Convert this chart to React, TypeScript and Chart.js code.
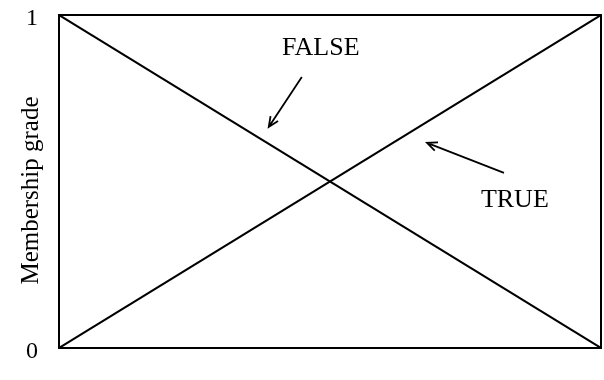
import React, { useEffect, useRef } from "react";
import { Chart, registerables } from "chart.js";

Chart.register(...registerables);

const xValues = [0, 1];
const falseGrade = [1, 0];
const trueGrade = [0, 1];
const yTicks = [0, 1];
const yTitle = "Membership grade";
const falseLabel = "FALSE";
const trueLabel = "TRUE";

const FONT = "'Liberation Serif', 'Times New Roman', serif";

export default function App() {
  const ref = useRef<HTMLCanvasElement | null>(null);

  useEffect(() => {
    const canvas = ref.current;
    if (!canvas) return;

    const decor = {
      id: "decor",
      afterDatasetsDraw(chart: any) {
        const { ctx, chartArea: a, scales } = chart;
        const xs = scales.x;
        const ys = scales.y;
        ctx.save();
        ctx.strokeStyle = "#000";
        ctx.lineWidth = 2;
        ctx.strokeRect(a.left, a.top, a.right - a.left, a.bottom - a.top);

        // axis title
        ctx.save();
        ctx.translate(31, (a.top + a.bottom) / 2 + 9);
        ctx.rotate(-Math.PI / 2);
        ctx.font = `25px ${FONT}`;
        ctx.fillStyle = "#000";
        ctx.textAlign = "center";
        ctx.textBaseline = "middle";
        ctx.fillText(yTitle, 0, 0);
        ctx.restore();

        const P = (x: number, y: number) => [xs.getPixelForValue(x), ys.getPixelForValue(y)];
        ctx.font = `26px ${FONT}`;
        ctx.fillStyle = "#000";
        ctx.textAlign = "center";
        ctx.textBaseline = "middle";
        const [fx, fy] = P(0.483, 0.901);
        ctx.fillText(falseLabel, fx, fy);
        const [tx, ty] = P(0.841, 0.444);
        ctx.fillText(trueLabel, tx, ty);

        const arrow = (x1: number, y1: number, x2: number, y2: number) => {
          const [ax, ay] = P(x1, y1);
          const [bx, by] = P(x2, y2);
          ctx.lineWidth = 1.8;
          ctx.beginPath();
          ctx.moveTo(ax, ay);
          ctx.lineTo(bx, by);
          const ang = Math.atan2(by - ay, bx - ax);
          const len = 11;
          const spread = 0.42;
          ctx.moveTo(bx - len * Math.cos(ang - spread), by - len * Math.sin(ang - spread));
          ctx.lineTo(bx, by);
          ctx.lineTo(bx - len * Math.cos(ang + spread), by - len * Math.sin(ang + spread));
          ctx.stroke();
        };
        arrow(0.448, 0.814, 0.387, 0.664);
        arrow(0.821, 0.526, 0.679, 0.616);
        ctx.restore();
      },
    };

    const chart = new Chart(canvas, {
      type: "line",
      data: {
        datasets: [
          {
            label: falseLabel,
            data: xValues.map((x, i) => ({ x, y: falseGrade[i] })),
            borderColor: "#000",
            borderWidth: 2,
            pointRadius: 0,
            fill: false,
          },
          {
            label: trueLabel,
            data: xValues.map((x, i) => ({ x, y: trueGrade[i] })),
            borderColor: "#000",
            borderWidth: 2,
            pointRadius: 0,
            fill: false,
          },
        ],
      },
      options: {
        animation: false,
        responsive: false,
        layout: { padding: { top: 15, right: 3, bottom: 32, left: 0 } },
        plugins: { legend: { display: false }, tooltip: { enabled: false } },
        scales: {
          x: { type: "linear", min: 0, max: 1, display: false },
          y: {
            type: "linear",
            min: 0,
            max: 1,
            afterBuildTicks: (s: any) => {
              s.ticks = yTicks.map((v) => ({ value: v }));
            },
            afterFit: (s: any) => {
              s.width = 59;
              s.paddingTop = 0;
              s.paddingBottom = 0;
            },
            ticks: {
              font: { family: FONT, size: 24 },
              color: "#000",
              padding: 21,
              labelOffset: 4,
            },
            grid: { display: false, drawTicks: false },
            border: { display: false },
          },
        },
      },
      plugins: [decor],
    } as any);

    return () => chart.destroy();
  }, []);

  return (
    <div style={{ position: "fixed", left: 0, top: 0, width: 604, height: 380, background: "#fff" }}>
      <canvas ref={ref} width={604} height={380} />
    </div>
  );
}
